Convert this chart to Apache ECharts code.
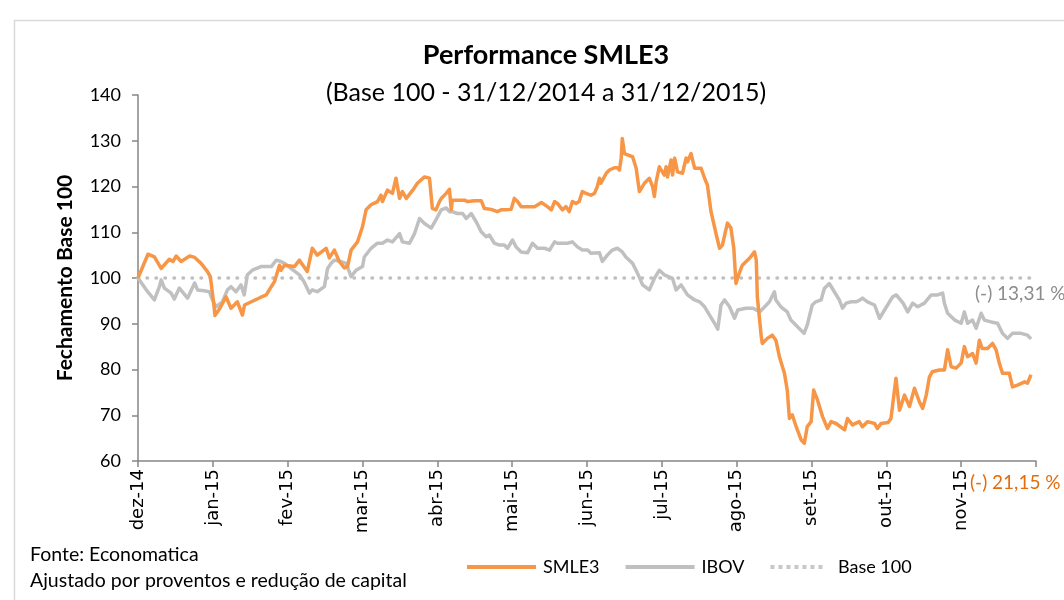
<!DOCTYPE html>
<html>
<head>
<meta charset="utf-8">
<script src="https://cdn.jsdelivr.net/npm/echarts@6/dist/echarts.min.js"></script>
<style>
html,body{margin:0;padding:0;background:#fff;}
#chart{width:1064px;height:600px;}
</style>
</head>
<body>
<div id="chart"></div>
<script>
// X positions are trading-day indices (21 trading days per month tick)
const xLabels = ['dez-14','jan-15','fev-15','mar-15','abr-15','mai-15','jun-15','jul-15','ago-15','set-15','out-15','nov-15'];

const smleDays = [0,2.8,4.6,6.5,8.8,9.8,10.7,12.1,14.5,15.9,17.7,19.5,20.3,21.3,21.6,23.0,24.7,26.1,27.9,29.3,29.9,31.8,34.5,36.0,37.4,38.3,39.7,40.1,41.1,43.9,45.3,47.5,48.9,50.3,52.8,53.7,55.1,56.5,57.9,58.8,59.8,61.6,63.0,64.0,65.4,67.2,68.2,68.6,70.0,71.4,72.4,73.4,74.2,75.3,77.1,78.4,80.4,81.8,82.6,83.6,84.6,85.1,86.5,87.4,87.9,88.2,89.6,91.6,92.5,94.4,96.3,97.2,99.1,100.8,101.9,103.3,104.7,105.6,106.5,107.5,109.3,111.3,113.2,114.9,116.0,116.9,117.7,119.1,120.1,121.0,121.9,122.9,123.8,124.7,125.7,127.1,128.1,128.9,129.5,129.9,130.3,131.4,132.3,133.7,134.5,135.1,135.6,135.9,136.5,137.4,138.8,139.8,140.7,141.2,142.1,143.5,144.4,144.9,145.4,146.3,147.7,148.2,148.6,149.6,150.0,150.6,151.4,152.8,153.8,154.2,155.2,156.2,158.0,159.0,159.8,160.8,162.3,163.2,164.0,165.4,166.4,167.2,167.8,168.7,169.6,171.6,173.0,173.5,173.8,174.9,175.2,176.6,178.0,179.0,180.0,181.4,182.2,182.8,183.6,184.7,186.1,187.0,187.8,188.9,189.6,190.7,192.1,193.5,194.5,195.9,198.3,199.1,200.5,202.4,203.3,204.7,206.7,207.5,208.5,210.5,211.3,212.7,213.7,215.1,216.5,217.9,219.3,220.2,221.2,222.1,222.9,224.9,226.3,227.2,228.2,229.6,231.0,231.9,232.8,234.2,235.2,236.1,236.9,238.4,239.8,240.8,241.7,242.6,244.5,245.4,246.8,248.8,249.6,250.6];
const smleValues = [100,105.2,104.6,102.1,104.1,103.6,104.8,103.6,104.8,104.5,103.2,101.4,100.3,94.1,91.8,93.4,95.9,93.4,94.8,91.9,94.1,94.8,95.8,96.3,98.1,99.2,102.8,101.7,102.8,102.5,103.9,101.4,106.5,105.0,106.5,104.4,106.1,103.6,102.2,102.5,106.1,107.9,111.2,114.9,116.0,116.7,118.1,116.7,119.2,118.5,121.8,117.4,118.9,117.4,119.2,120.7,122.1,121.8,115.2,114.9,116.7,117.4,118.5,119.4,114.9,117.0,117.0,117.0,116.7,116.9,116.9,115.2,115.0,114.5,114.9,114.9,115.0,117.4,116.7,115.6,115.6,115.6,116.5,115.6,114.9,116.7,116.3,114.9,115.6,114.5,116.7,116.3,116.7,118.9,118.5,118.1,118.5,120.0,121.8,120.7,120.3,122.9,123.6,124.1,124.1,123.6,126.2,130.5,127.2,126.9,126.5,124.0,118.9,119.2,120.7,121.8,120.0,117.8,121.0,124.3,122.5,124.3,122.1,125.8,122.5,126.2,123.2,122.9,126.2,125.4,127.2,124.0,124.0,121.8,120.3,114.5,109.4,106.5,107.2,112.0,110.9,106.5,98.8,101.0,102.8,104.3,105.7,103.9,95.9,87.2,85.7,86.8,87.5,86.4,82.8,79.2,75.5,69.3,70.1,67.5,64.6,63.9,67.5,68.6,75.5,73.3,69.7,67.1,68.6,68.2,66.8,69.3,67.9,68.6,67.5,68.6,68.2,67.1,68.2,68.4,69.3,78.1,71.1,74.4,71.9,75.9,72.9,71.5,74.4,78.4,79.5,79.9,79.9,84.3,80.6,80.3,81.4,85.0,82.8,83.5,81.4,86.4,84.6,84.6,85.7,84.3,81.4,79.2,79.2,76.2,76.6,77.3,77.0,78.85];

const ibovDays = [0,2.7,4.6,6.0,6.5,7.4,9.3,10.2,11.6,13.9,15.9,16.7,18.6,20.0,20.9,21.9,23.7,25.1,26.1,27.5,28.9,29.8,30.7,32.1,34.5,37.4,38.8,40.1,41.1,42.9,45.3,46.6,48.1,48.9,50.3,52.3,53.2,54.2,55.1,57.0,58.4,59.8,61.2,63.0,63.5,65.4,67.2,68.6,70.0,71.4,73.4,74.2,76.2,77.6,79.0,80.4,82.3,83.6,85.1,86.5,87.4,88.2,89.6,91.1,92.1,93.5,94.9,96.3,97.7,98.6,100.0,101.4,102.8,103.7,105.1,106.1,107.5,109.3,110.7,112.1,114.1,115.5,116.9,117.7,119.1,120.5,121.9,123.3,124.7,126.2,127.1,129.5,130.3,131.7,133.1,134.5,135.9,136.9,138.8,140.2,141.6,143.5,144.9,146.3,147.7,150.0,151.0,152.4,154.2,156.2,157.6,159.0,160.4,161.8,162.7,163.6,164.6,166.0,167.4,168.3,170.6,172.6,174.5,177.2,178.6,179.0,180.4,182.2,183.2,185.0,186.9,187.8,189.2,190.2,191.7,192.6,194.0,195.4,196.8,197.7,198.7,200.2,201.6,202.6,203.3,204.7,206.7,208.1,209.5,210.9,211.8,212.8,214.7,216.0,217.4,218.8,220.7,222.6,224.4,225.8,226.3,227.2,229.2,231.0,231.9,232.8,234.2,235.2,236.6,237.5,239.4,241.2,242.6,244.0,245.4,247.8,249.6,250.6];
const ibovValues = [100,97.0,95.2,98.1,99.6,97.8,96.7,95.4,97.8,95.6,98.9,97.4,97.2,97.0,95.2,93.7,94.8,97.4,98.1,97.0,98.5,96.3,100.7,101.7,102.5,102.5,103.9,103.6,103.2,102.1,100.7,99.2,96.7,97.4,97.0,98.1,102.1,103.2,103.9,103.6,103.2,100.3,101.7,102.5,104.6,106.5,107.6,107.6,108.3,107.9,109.7,107.9,107.6,109.7,113.0,111.9,110.9,112.7,114.9,115.3,114.5,114.5,114.1,114.1,113.0,114.1,112.3,110.1,109.0,109.4,107.6,107.2,107.2,106.5,108.3,106.8,105.7,105.5,107.6,106.5,106.5,106.1,107.9,107.6,107.6,107.6,107.9,106.8,106.1,106.1,105.4,105.5,103.6,105.0,106.1,106.5,105.7,104.6,103.2,101.0,98.5,97.4,99.9,101.7,100.7,99.9,97.4,98.5,96.3,95.2,94.8,93.7,91.9,90.1,88.8,94.1,95.2,93.7,91.2,93.0,93.4,93.4,92.6,94.8,97.0,95.2,93.7,92.6,90.8,89.4,87.9,89.7,94.1,94.8,95.2,97.7,98.8,97.0,95.2,93.4,94.5,94.8,94.8,95.2,95.6,94.8,94.1,91.2,93.0,94.8,95.9,96.3,94.5,92.6,94.5,93.7,94.5,96.3,96.3,96.7,94.5,92.3,90.8,90.1,92.6,90.1,90.8,89.0,92.3,90.8,90.4,90.1,87.9,86.8,87.9,87.9,87.5,86.69];

const baseDays = [0, 250.6];
const baseValues = [100, 100];

const yTicks = {min: 60, max: 140, interval: 10};
const xRange = {min: 0, max: 252, interval: 21};

const zip = (xs, ys) => xs.map((x, i) => [x, ys[i]]);

const FONT = 'Lato';
const SOLID_ICON = 'path://M0,0H70V4H0Z';
const DOT_ICON = 'path://' + Array.from({length: 7}, (_, i) => 'M' + (i * 8) + ',0h4v4h-4Z').join('');

const chart = echarts.init(document.getElementById('chart'));
chart.setOption({
  animation: false,
  backgroundColor: '#ffffff',
  title: {
    text: 'Performance SMLE3',
    subtext: '(Base 100 - 31/12/2014 a 31/12/2015)',
    left: 541, top: 37, textAlign: 'center',
    itemGap: 11,
    textStyle: {fontFamily: FONT, fontSize: 27, fontWeight: 'bold', color: '#000'},
    subtextStyle: {fontFamily: FONT, fontSize: 25, color: '#000'}
  },
  grid: {left: 138, right: 28, top: 95, bottom: 139, containLabel: false},
  legend: {
    left: 462, top: 553,
    itemWidth: 69, itemHeight: 4, itemGap: 26,
    textStyle: {fontFamily: FONT, fontSize: 18, color: '#000', padding: [0, 0, 0, 2]},
    data: [
      {name: 'SMLE3', icon: SOLID_ICON},
      {name: 'IBOV', icon: SOLID_ICON},
      {name: 'Base 100', icon: DOT_ICON, itemStyle: {color: '#c8c8c8'}}
    ]
  },
  xAxis: {
    type: 'value', min: xRange.min, max: xRange.max, interval: xRange.interval,
    splitLine: {show: false},
    axisLine: {lineStyle: {color: '#868686', width: 1.5}},
    axisTick: {show: true, length: 6, lineStyle: {color: '#868686', width: 1.5}},
    axisLabel: {
      rotate: 90, margin: 8, color: '#000', fontFamily: 'DejaVu Sans', fontSize: 18,
      formatter: v => xLabels[Math.round(v / xRange.interval)] || '',
      showMaxLabel: true
    }
  },
  yAxis: {
    type: 'value', min: yTicks.min, max: yTicks.max, interval: yTicks.interval,
    name: 'Fechamento Base 100', nameLocation: 'middle', nameGap: 62, nameRotate: 90,
    nameTextStyle: {fontFamily: FONT, fontSize: 21, fontWeight: 'bold', color: '#000'},
    splitLine: {show: false},
    axisLine: {show: true, lineStyle: {color: '#868686', width: 1.5}},
    axisTick: {show: true, length: 6, lineStyle: {color: '#868686', width: 1.5}},
    axisLabel: {color: '#000', fontFamily: FONT, fontSize: 18, margin: 17}
  },
  series: [
    {
      name: 'SMLE3', type: 'line', data: zip(smleDays, smleValues),
      symbol: 'none', z: 4,
      lineStyle: {color: '#f79646', width: 3.5, join: 'round'},
      itemStyle: {color: '#f79646'}
    },
    {
      name: 'IBOV', type: 'line', data: zip(ibovDays, ibovValues),
      symbol: 'none', z: 3,
      lineStyle: {color: '#c0c0c0', width: 3.5, join: 'round'},
      itemStyle: {color: '#c0c0c0'}
    },
    {
      name: 'Base 100', type: 'line', data: zip(baseDays, baseValues),
      symbol: 'none', z: 2,
      lineStyle: {color: '#bfbfbf', width: 3.5, type: [0.5, 8.5], cap: 'round'},
      itemStyle: {color: '#bfbfbf'}
    }
  ],
  graphic: [
    {type: 'rect', left: 12, top: 18, shape: {width: 1100, height: 700},
     style: {fill: 'none', stroke: '#d9d9d9', lineWidth: 1.5}, silent: true},
    {type: 'text', left: 975, top: 284,
     style: {text: '(-) 13,31 %', font: '19px Lato', fill: '#8c8c8c'}},
    {type: 'text', left: 970, top: 473,
     style: {text: '(-) 21,15 %', font: '19px Lato', fill: '#e46c0a'}},
    {type: 'text', left: 30, top: 545,
     style: {text: 'Fonte: Economatica', font: '19.5px Lato', fill: '#000'}},
    {type: 'text', left: 30, top: 571,
     style: {text: 'Ajustado por proventos e redução de capital', font: '19.5px Lato', fill: '#000'}}
  ]
});
</script>
</body>
</html>
